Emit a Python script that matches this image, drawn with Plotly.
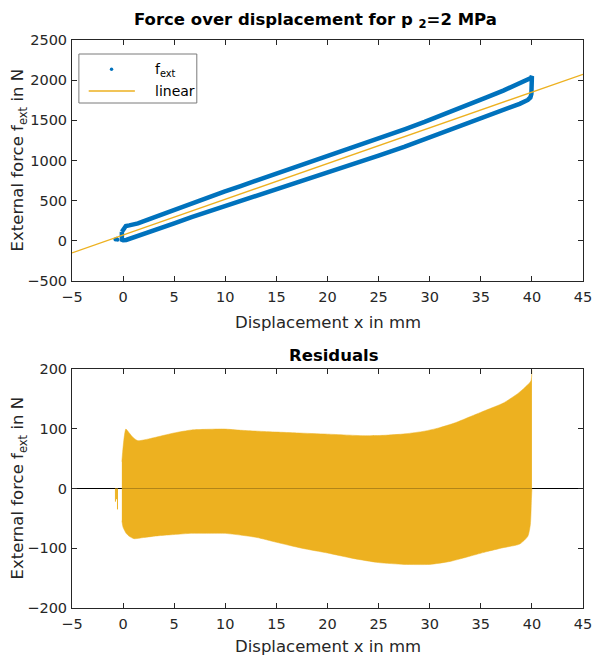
import plotly.graph_objects as go

# ---- data ----
fit_slope = 44.46      # N/mm, linear fit
fit_intercept = 73.0   # N

x_line = [-5, 45]

# residual envelope of loading branch (upper) vs displacement
x_up = [-0.12, -0.05, 0.1, 0.27, 0.6, 1.0, 1.45, 2.5, 3.5, 5, 6.7, 8, 9.9, 11.5, 13.1,
        15, 17, 20, 23.7, 25.5, 27.6, 29.5, 30.8, 32.5, 34, 35.5, 37.2, 38.7, 39.9, 40.0]
res_up = [45, 60, 85, 99.5, 93, 85, 80, 83, 87, 93, 98, 99, 99.5, 97.5, 96,
          94.5, 93, 91, 88.3, 89, 91.5, 96, 101, 110, 120.5, 131, 143, 160, 180, 198]

# residual envelope of unloading branch (lower) vs displacement
x_low = [-0.12, 0.0, 0.3, 0.6, 1.07, 2, 3.5, 5, 6.7, 8, 9.9, 11.5, 13.1, 15, 17.5, 20,
         22.5, 25, 27.5, 30, 32, 34, 35.5, 37.2, 38.8, 39.6, 39.85, 39.95, 40.0]
res_low = [-54, -65, -75, -80, -84, -82, -79, -77, -75, -75, -75, -78, -82, -90, -100, -108,
           -117, -124, -127, -127, -122, -113, -106, -99, -93, -80, -60, -20, 0]

# isolated samples before the loop starts
x_pre = [-0.75, -0.65, -0.55]
res_pre = [-22, -18, -35]

x_ticks = [-5, 0, 5, 10, 15, 20, 25, 30, 35, 40, 45]
y1_ticks = [-500, 0, 500, 1000, 1500, 2000, 2500]
y2_ticks = [-200, -100, 0, 100, 200]

legend_labels = ["f<sub>ext</sub>", "linear"]

BLUE = "#0072BD"
YELLOW = "#EDB120"
AX = "#262626"
FONT = "DejaVu Sans"

W, H = 603, 658
ML, MR, MT, MB = 72, 11, 40, 50
PW, PH = W - ML - MR, H - MT - MB


def px(x):          # pixel -> paper x
    return (x - ML) / PW


def py(y):          # pixel -> paper y
    return (H - MB - y) / PH


def lin(x):
    return fit_slope * x + fit_intercept


# measured force = linear fit + residual
f_up = [lin(x) + r for x, r in zip(x_up, res_up)]
f_low = [lin(x) + r for x, r in zip(x_low, res_low)]
f_pre = [lin(x) + r for x, r in zip(x_pre, res_pre)]

loop_x = x_up + x_low[::-1] + [x_up[0]]
loop_f = f_up + f_low[::-1] + [f_up[0]]

fig = go.Figure()

# ---- top: force over displacement ----
fig.add_trace(go.Scatter(x=loop_x, y=loop_f, mode="lines", name=legend_labels[0],
                         line=dict(color=BLUE, width=4.5), showlegend=False,
                         xaxis="x", yaxis="y"))
fig.add_trace(go.Scatter(x=x_pre, y=f_pre, mode="markers",
                         marker=dict(color=BLUE, size=4), showlegend=False,
                         xaxis="x", yaxis="y"))
fig.add_trace(go.Scatter(x=x_line, y=[lin(v) for v in x_line], mode="lines",
                         name=legend_labels[1], showlegend=False,
                         line=dict(color=YELLOW, width=1.3), xaxis="x", yaxis="y"))

# ---- bottom: residuals ----
fig.add_trace(go.Scatter(x=x_up, y=res_up, mode="lines", fill="tozeroy",
                         fillcolor=YELLOW, line=dict(color=YELLOW, width=0.5, shape="spline",
                                                     smoothing=0.6),
                         showlegend=False, xaxis="x2", yaxis="y2"))
fig.add_trace(go.Scatter(x=x_low, y=res_low, mode="lines", fill="tozeroy",
                         fillcolor=YELLOW, line=dict(color=YELLOW, width=0.5, shape="spline",
                                                     smoothing=0.6),
                         showlegend=False, xaxis="x2", yaxis="y2"))
sx, sy = [], []
for x, r in zip(x_pre, res_pre):
    sx += [x, x, None]
    sy += [0, r, None]
fig.add_trace(go.Scatter(x=sx, y=sy, mode="lines", line=dict(color=YELLOW, width=1),
                         showlegend=False, xaxis="x2", yaxis="y2"))

axis_common = dict(showgrid=False, showline=True, mirror="ticks", linecolor=AX, linewidth=1,
                   ticks="inside", ticklen=5, tickcolor=AX, tickwidth=1,
                   tickfont=dict(family=FONT, size=14.5, color=AX), layer="above traces")

fig.update_layout(
    width=W, height=H,
    margin=dict(l=ML, r=MR, t=MT, b=MB),
    paper_bgcolor="white", plot_bgcolor="white",
    font=dict(family=FONT, color=AX),
    xaxis=dict(domain=[0, 1], range=[-5, 45], tickvals=x_ticks, anchor="y",
               zeroline=False, ticklabelstandoff=3, **axis_common),
    yaxis=dict(domain=[py(281), 1.0], range=[-500, 2500], tickvals=y1_ticks, anchor="x",
               zeroline=False, ticklabelstandoff=1, **axis_common),
    xaxis2=dict(domain=[0, 1], range=[-5, 45], tickvals=x_ticks, anchor="y2",
                zeroline=False, ticklabelstandoff=3, **axis_common),
    yaxis2=dict(domain=[0, py(369)], range=[-200, 200], tickvals=y2_ticks, anchor="x2",
                zeroline=True, zerolinecolor="#000000", zerolinewidth=1,
                ticklabelstandoff=1, **axis_common),
    showlegend=False,
)

# ---- legend box (drawn in paper space) ----
fig.add_shape(type="rect", xref="paper", yref="paper",
              x0=px(79), x1=px(199), y0=py(103), y1=py(54),
              line=dict(color="#7a7a7a", width=1), fillcolor="white", layer="above")
fig.add_shape(type="circle", xref="paper", yref="paper",
              x0=px(110.5), x1=px(114), y0=py(71), y1=py(67.5),
              line=dict(color=BLUE, width=0), fillcolor=BLUE, layer="above")
fig.add_shape(type="line", xref="paper", yref="paper",
              x0=px(89), x1=px(136), y0=py(91), y1=py(91),
              line=dict(color=YELLOW, width=1.3), layer="above")
for lbl, yc in zip(legend_labels, [70, 91]):
    fig.add_annotation(text=lbl, xref="paper", yref="paper", x=px(154), y=py(yc),
                       xanchor="left", yanchor="middle", showarrow=False,
                       font=dict(family=FONT, size=14, color="#000000"))

ann = [
    dict(text="<b>Force over displacement for p <sub>2</sub>=2 MPa</b>", x=0.476, y=py(20),
         font=dict(size=16.5, color="#000000")),
    dict(text="<b>Residuals</b>", x=0.512, y=py(355), font=dict(size=16.5, color="#000000")),
    dict(text="Displacement x in mm", x=0.5, y=py(322), font=dict(size=16.5, color=AX)),
    dict(text="Displacement x in mm", x=0.5, y=py(646), font=dict(size=16.5, color=AX)),
    dict(text="External force f<sub>ext</sub> in N", x=px(18), y=py(160.5), textangle=-90,
         font=dict(size=16.5, color=AX)),
    dict(text="External force f<sub>ext</sub> in N", x=px(18), y=py(488.5), textangle=-90,
         font=dict(size=16.5, color=AX)),
]
for a in ann:
    fig.add_annotation(xref="paper", yref="paper", showarrow=False,
                       xanchor="center", yanchor="middle",
                       font_family=FONT, **a)

fig.write_html("out.html")
